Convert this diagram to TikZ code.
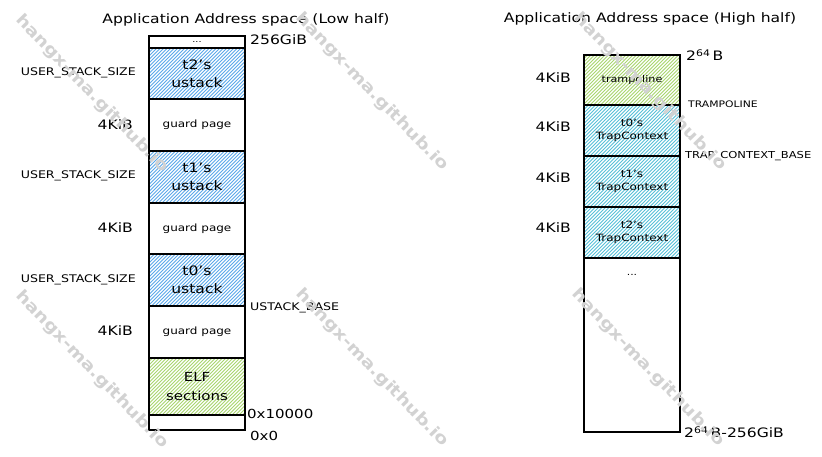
\documentclass[tikz,border=0pt]{standalone}
\usepackage{fontspec}
\setmainfont[FakeStretch=1.2]{DejaVu Sans}
\definecolor{hblue}{HTML}{5AA8EA}
\definecolor{hgreen}{HTML}{A8D66E}
\definecolor{hcyan}{HTML}{56C0D8}
\definecolor{wm}{HTML}{D2D2D2}
\begin{document}
\begin{tikzpicture}[x=1pt,y=-1pt,
  seg/.style={draw=black, line width=1.3pt, minimum width=96pt, inner sep=0pt, align=center},
  hatch/.style={path picture={\foreach \i in {-64,-60.5,...,100} \draw[#1, line width=0.75pt] ([xshift=\i pt]path picture bounding box.south west) -- ++(64pt,64pt);}},
  big/.style={font=\fontsize{13}{18}\selectfont},
  mid/.style={font=\fontsize{12.5}{19}\selectfont},
  small/.style={font=\fontsize{10}{13.5}\selectfont},
  caps/.style={font=\fontsize{10.5}{12}\selectfont},
  lbl/.style={inner sep=0pt},
  wmark/.style={text=wm, rotate=-46, font=\fontsize{16}{16}\bfseries\selectfont}
]
\useasboundingbox (0,0) rectangle (822,456);
\fill[white] (0,0) rectangle (822,456);

% ---------- left column (low half) ----------
\node[lbl, font=\fontsize{13}{15}\selectfont] (ltitle) at (246,20) {Application Address space (Low half)};

\node[seg, minimum height=12pt, font=\fontsize{8}{8}\selectfont] (ldots) at (197,42) {...};
\node[seg, minimum height=51pt, hatch=hblue, big] (t2s) at (197,73.5) {t2's\\ustack};
\node[seg, minimum height=52pt, small] (g2) at (197,125) {guard page};
\node[seg, minimum height=52pt, hatch=hblue, big] (t1s) at (197,177) {t1's\\ustack};
\node[seg, minimum height=51pt, small] (g1) at (197,228.5) {guard page};
\node[seg, minimum height=52pt, hatch=hblue, big] (t0s) at (197,280) {t0's\\ustack};
\node[seg, minimum height=52pt, small] (g0) at (197,332) {guard page};
\node[seg, minimum height=57pt, hatch=hgreen, mid] (elf) at (197,386.5) {ELF\\sections};
\node[seg, minimum height=15pt] (zero) at (197,422.5) {};

\node[lbl, caps, anchor=east] (uss2) at (136,73) {USER\_STACK\_SIZE};
\node[lbl, caps, anchor=east] (uss1) at (136,176) {USER\_STACK\_SIZE};
\node[lbl, caps, anchor=east] (uss0) at (136,280) {USER\_STACK\_SIZE};
\node[lbl, big, anchor=east] (lk2) at (133,125) {4KiB};
\node[lbl, big, anchor=east] (lk1) at (133,228) {4KiB};
\node[lbl, big, anchor=east] (lk0) at (133,331) {4KiB};

\node[lbl, big, anchor=west] (top256) at (250,40) {256GiB};
\node[lbl, caps, anchor=west] (ubase) at (250,308) {USTACK\_BASE};
\node[lbl, mid, anchor=west] (a10000) at (247,414) {0x10000};
\node[lbl, mid, anchor=west] (a0) at (250,436) {0x0};

% ---------- right column (high half) ----------
\node[lbl, font=\fontsize{13}{15}\selectfont] (rtitle) at (650,19) {Application Address space (High half)};

\node[seg, minimum height=50pt, hatch=hgreen, font=\fontsize{9.3}{12}\selectfont] (tramp) at (632,80) {trampoline};
\node[seg, minimum height=51pt, hatch=hcyan, small] (tc0) at (632,130.5) {t0's\\TrapContext};
\node[seg, minimum height=51pt, hatch=hcyan, small] (tc1) at (632,181.5) {t1's\\TrapContext};
\node[seg, minimum height=51pt, hatch=hcyan, small] (tc2) at (632,232.5) {t2's\\TrapContext};
\node[seg, minimum height=174pt] (rest) at (632,345) {};
\node[lbl, font=\fontsize{9}{9}\selectfont] (rdots) at (632,275) {...};

\node[lbl, big, anchor=east] (rk0) at (571,78) {4KiB};
\node[lbl, big, anchor=east] (rk1) at (571,127) {4KiB};
\node[lbl, big, anchor=east] (rk2) at (571,178) {4KiB};
\node[lbl, big, anchor=east] (rk3) at (571,228) {4KiB};

\node[lbl, big, anchor=west] (r264) at (686,55) {2\textsuperscript{64}\,B};
\node[lbl, font=\fontsize{9}{10}\selectfont, anchor=west] (rtramp) at (688,104) {TRAMPOLINE};
\node[lbl, font=\fontsize{9.6}{11}\selectfont, anchor=west] (rtcb) at (685,156) {TRAP\_CONTEXT\_BASE};
\node[lbl, big, anchor=west] (rbot) at (684,432) {2\textsuperscript{64}\,B-256GiB};

% ---------- watermarks ----------
\node[wmark] (w1) at (92,94) {hangx-ma.github.io};
\node[wmark] (w2) at (372,92) {hangx-ma.github.io};
\node[wmark] (w3) at (650,92) {hangx-ma.github.io};
\node[wmark] (w4) at (92,370) {hangx-ma.github.io};
\node[wmark] (w5) at (372,368) {hangx-ma.github.io};
\node[wmark] (w6) at (648,368) {hangx-ma.github.io};
\end{tikzpicture}
\end{document}
